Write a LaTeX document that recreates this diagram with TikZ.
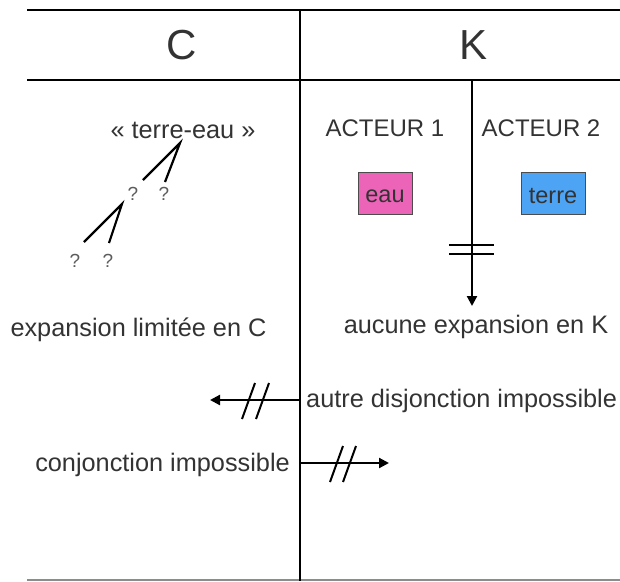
\documentclass[tikz,border=0pt]{standalone}
\usepackage{fontspec}
\setmainfont{Liberation Sans}
\usetikzlibrary{arrows.meta}
\definecolor{txt}{HTML}{333333}
\definecolor{pinkbox}{HTML}{EC64B8}
\definecolor{bluebox}{HTML}{4DA3F4}
\tikzset{
  rule/.style={line width=2.6pt,black},
  thinrule/.style={line width=1.4pt,black!45},
  lab/.style={text=txt,font=\fontsize{25.3}{29}\selectfont,inner sep=0pt},
  caps/.style={text=txt,font=\fontsize{24}{28}\selectfont,inner sep=0pt},
  big/.style={text=txt,font=\fontsize{42}{46}\selectfont,inner sep=0pt},
  qm/.style={text=txt!80,font=\fontsize{19}{21}\selectfont,inner sep=0pt},
  arr/.style={line width=2.2pt,-{Triangle[length=10pt,width=10pt]}},
  branch/.style={line width=2.2pt},
  slash/.style={line width=2pt},
  tagbox/.style={draw=black!70,line width=0.8pt,text=txt,font=\fontsize{23.5}{26}\selectfont,
    minimum height=42pt,inner sep=0pt,text height=19pt,text depth=0pt},
}
\begin{document}
\begin{tikzpicture}[x=1pt,y=-1pt]
\useasboundingbox (0,0) rectangle (620,581);
% frame
\coordinate (tl) at (27,10); \coordinate (tr) at (620,10);
\coordinate (ml) at (27,80); \coordinate (mr) at (620,80);
\coordinate (vt) at (300,10); \coordinate (vb) at (300,581);
\coordinate (bl) at (27,580); \coordinate (br) at (620,580);
\draw[thinrule] (bl) -- (br);
\draw[rule] (tl) -- (tr);
\draw[rule] (ml) -- (mr);
\draw[rule] (vt) -- (vb);
% headers
\node[big] (C) at (182,45) {C};
\node[big] (K) at (473,45) {K};
% left tree
\node[lab] (te) at (183,130) {« terre-eau »};
\coordinate (v1) at (180,143);
\coordinate (a1) at (143,180); \coordinate (b1) at (165,182);
\draw[branch] (a1) -- (v1) -- (b1);
\node[qm] (q1) at (133,194) {?};
\node[qm] (q2) at (164,194) {?};
\coordinate (v2) at (122,204);
\coordinate (a2) at (84,242); \coordinate (b2) at (109,243);
\draw[branch] (a2) -- (v2) -- (b2);
\node[qm] (q3) at (75,261) {?};
\node[qm] (q4) at (108,261) {?};
\node[lab] (expC) at (138.5,330) {expansion limitée en C};
% right side
\node[caps] (a1t) at (385,128) {ACTEUR 1};
\node[caps] (a2t) at (541,128) {ACTEUR 2};
\node[tagbox,fill=pinkbox,minimum width=54pt] (eau) at (385,193) {eau};
\node[tagbox,fill=bluebox,minimum width=64pt] (terre) at (553,193.5) {terre};
\coordinate (ks) at (472,80);
\coordinate (ke) at (472,306);
\draw[arr] (ks) -- (ke);
\coordinate (d1l) at (449,245); \coordinate (d1r) at (494,245);
\coordinate (d2l) at (449,254); \coordinate (d2r) at (494,254);
\draw[slash] (d1l) -- (d1r);
\draw[slash] (d2l) -- (d2r);
\node[lab] (expK) at (476,327) {aucune expansion en K};
% disjonction arrow (left)
\node[lab,anchor=west] (dis) at (306,401) {autre disjonction impossible};
\coordinate (ds) at (300,400); \coordinate (de) at (210,400);
\draw[arr] (ds) -- (de);
\coordinate (s1a) at (242,419); \coordinate (s1b) at (255,383);
\coordinate (s2a) at (256,419); \coordinate (s2b) at (269,383);
\draw[slash] (s1a) -- (s1b);
\draw[slash] (s2a) -- (s2b);
% conjonction arrow (right)
\node[lab,anchor=east] (con) at (290,465) {conjonction impossible};
\coordinate (cs) at (300,463); \coordinate (ce) at (389,463);
\draw[arr] (cs) -- (ce);
\coordinate (t1a) at (330,482); \coordinate (t1b) at (343,446);
\coordinate (t2a) at (343,482); \coordinate (t2b) at (356,446);
\draw[slash] (t1a) -- (t1b);
\draw[slash] (t2a) -- (t2b);
\end{tikzpicture}
\end{document}
